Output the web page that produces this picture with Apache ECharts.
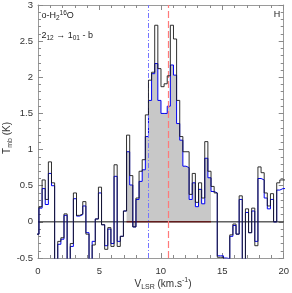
<!DOCTYPE html>
<html><head><meta charset="utf-8">
<script src="https://cdn.jsdelivr.net/npm/echarts@6/dist/echarts.min.js"></script>
<style>html,body{margin:0;padding:0;background:#fff}#c{width:292px;height:293px}</style>
</head><body><div id="c"></div>
<script>
// channel grid (km/s): left edge of first channel and channel width
const firstEdge = -0.175;
const channelWidth = 0.2546;
// main-beam temperature (K), black spectrum, one value per channel
const tBlack = [
 -0.17,
 0.21, 0.58, 0.31, 0.83, 0.54,
 -0.70, -0.27, -0.22, 0.11, -0.70,
 -0.30, 0.40, 0.09, 0.11, 0.28,
 -0.17, -0.70, -0.32, 0.04, 0.48,
 -0.04, -0.38, -0.08, -0.34, 0.79,
 -0.34, -0.20, 0.15, 1.20, 0.64,
 -0.07, 0.33, 0.70, 0.86, 1.48,
 1.96, 2.07, 2.72, 2.12, 1.87,
 1.91, 2.02, 2.72, 2.53, 1.68,
 1.18, 0.97, 0.97, 0.38, 0.67,
 0.27, 0.54, 0.33, 1.11, 0.70,
 0.49, 0.40, -0.49, -0.49, -0.52,
 -0.53, -0.18, -0.03, -0.17, 0.36,
 -0.70, 0.18, -0.15, 0.19, -0.33,
 0.76, 0.68, 0.40, 0.22, 0.39,
 0.00, 0.54, 0.58, 0.58
];
// blue spectrum
const tBlue = [
 -0.17,
 0.19, 0.46, 0.24, 0.67, 0.50,
 -0.70, -0.31, -0.24, 0.09, -0.70,
 -0.34, 0.32, 0.08, 0.10, 0.22,
 -0.15, -0.70, -0.27, 0.04, 0.40,
 -0.04, -0.33, -0.10, -0.30, 0.63,
 -0.27, -0.20, 0.15, 0.97, 0.51,
 -0.07, 0.31, 0.56, 0.72, 1.18,
 1.68, 2.05, 2.19, 1.68, 1.50,
 1.50, 1.60, 2.17, 2.03, 1.36,
 1.13, 0.77, 0.75, 0.31, 0.54,
 0.21, 0.45, 0.25, 0.88, 0.61,
 0.42, 0.40, -0.47, -0.47, -0.50,
 -0.51, -0.20, -0.05, -0.17, 0.31,
 -0.70, 0.13, -0.15, 0.15, -0.27,
 0.60, 0.58, 0.33, 0.18, 0.31,
 0.00, 0.44, 0.46, 0.46
];
// shaded channel range (array indices, inclusive start, exclusive end)
const shadeRange = [29, 56];
// reference velocities (km/s)
const vBlue = 9.0;
const vRed = 10.64;
const xTicks = [0, 20, 5];
const yTicks = [-0.5, 3, 0.5];

function edge(i){ return firstEdge + i*channelWidth; }
function stepData(vals, a, b){
  const d = [];
  for (let i=a;i<b;i++) d.push([edge(i), vals[i]]);
  d.push([edge(b), vals[b-1]]);
  return d;
}
const FONT = "'Liberation Sans', Arial, Helvetica, sans-serif";
const axisCommon = {
  axisLine:{show:true,onZero:false,lineStyle:{color:'#9a9a9a',width:1}},
  axisTick:{show:true,inside:true,length:5,lineStyle:{color:'#8a8a8a',width:1}},
  minorTick:{show:true,splitNumber:5,length:3,lineStyle:{color:'#8a8a8a',width:1}},
  splitLine:{show:false}
};
const lblStyle = {color:'#333',fontSize:9.5,fontFamily:FONT};
const chart = echarts.init(document.getElementById('c'));
chart.setOption({
  animation:false,
  grid:{left:38,right:5,top:4,bottom:35},
  xAxis:[
    Object.assign({type:'value',min:xTicks[0],max:xTicks[1],interval:xTicks[2],position:'bottom',
      axisLabel:Object.assign({margin:8},lblStyle)},axisCommon),
    Object.assign({type:'value',min:xTicks[0],max:xTicks[1],interval:xTicks[2],position:'top',
      axisLabel:{show:false}},axisCommon)
  ],
  yAxis:[
    Object.assign({type:'value',min:yTicks[0],max:yTicks[1],interval:yTicks[2],position:'left',
      axisLabel:Object.assign({margin:5},lblStyle)},axisCommon),
    Object.assign({type:'value',min:yTicks[0],max:yTicks[1],interval:yTicks[2],position:'right',
      axisLabel:{show:false}},axisCommon)
  ],
  series:[
    {type:'line',step:'end',symbol:'none',z:1,silent:true,
     data:stepData(tBlue, shadeRange[0], shadeRange[1]),
     lineStyle:{width:0,opacity:0},areaStyle:{color:'#c8c8c8',opacity:1}},
    {type:'line',symbol:'none',z:2,data:[[xTicks[0],0],[xTicks[1],0]],
     lineStyle:{color:'#111',width:1}},
    {type:'line',symbol:'none',z:3,data:[[edge(shadeRange[0]),0],[edge(shadeRange[1]),0]],
     lineStyle:{color:'#6a0000',width:1}},
    {type:'line',step:'end',symbol:'none',z:4,data:stepData(tBlue,0,tBlue.length),
     lineStyle:{color:'#0000ee',width:1}},
    {type:'line',step:'end',symbol:'none',z:5,data:stepData(tBlack,0,tBlack.length),
     lineStyle:{color:'#1a1a1a',width:1,opacity:0.9},
     markLine:{symbol:'none',silent:true,label:{show:false},animation:false,
       data:[
         {xAxis:vBlue,lineStyle:{color:'#7474ff',width:1,type:[5,2,1,2]}},
         {xAxis:vRed,lineStyle:{color:'#ff7a7a',width:1.2,type:[7,3]}}
       ]}}
  ],
  graphic:[
    {type:'text',x:41.5,y:16,style:{text:'o-H{s|2}{p|16}O',fontSize:9,fontFamily:FONT,fill:'#222',
      verticalAlign:'middle',lineHeight:12,
      rich:{s:{fontSize:6.5,lineHeight:6,verticalAlign:'bottom',fontFamily:FONT,fill:'#222'},
            p:{fontSize:6.5,lineHeight:6,verticalAlign:'top',fontFamily:FONT,fill:'#222'}}}},
    {type:'text',x:41.5,y:36,style:{text:'2{s|12} → 1{s|01} - b',fontSize:9,fontFamily:FONT,fill:'#222',
      verticalAlign:'middle',lineHeight:12,
      rich:{s:{fontSize:6.5,lineHeight:6,verticalAlign:'bottom',fontFamily:FONT,fill:'#222'}}}},
    {type:'text',x:277,y:15,style:{text:'H',fontSize:9,fontFamily:FONT,fill:'#222',align:'center',verticalAlign:'middle'}},
    {type:'text',x:7,y:138,rotation:Math.PI/2,style:{text:'T{s|mb} (K)',fontSize:10,fontFamily:FONT,fill:'#333',
      align:'center',verticalAlign:'middle',lineHeight:14,
      rich:{s:{fontSize:7,lineHeight:7,verticalAlign:'bottom',fontFamily:FONT,fill:'#333'}}}},
    {type:'text',x:163,y:284,style:{text:'V{s|LSR} (km.s{p|-1})',fontSize:10,fontFamily:FONT,fill:'#333',
      align:'center',verticalAlign:'middle',lineHeight:14,
      rich:{s:{fontSize:7,lineHeight:7,verticalAlign:'bottom',fontFamily:FONT,fill:'#333'},
            p:{fontSize:7,lineHeight:7,verticalAlign:'top',fontFamily:FONT,fill:'#333'}}}}
  ]
});
</script></body></html>
